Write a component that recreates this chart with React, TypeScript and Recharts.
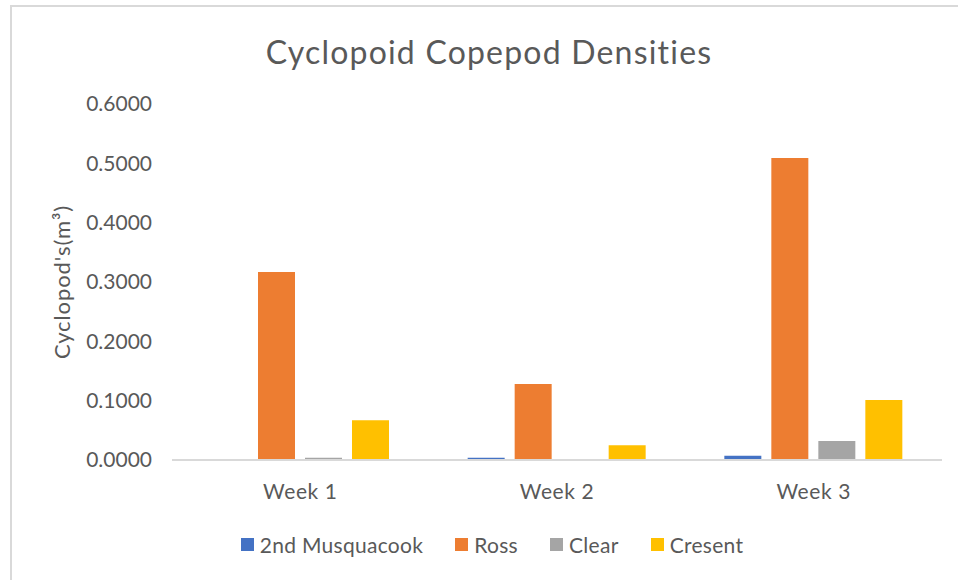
import React from "react";
import { BarChart, Bar, XAxis, YAxis, Legend, Label } from "recharts";

const categories = ["Week 1", "Week 2", "Week 3"];
const musquacook = [0, 0.004, 0.007];
const ross = [0.317, 0.128, 0.509];
const clear = [0.004, 0, 0.032];
const cresent = [0.067, 0.025, 0.101];
const yTicks = [0, 0.1, 0.2, 0.3, 0.4, 0.5, 0.6];

const seriesNames = ["2nd Musquacook", "Ross", "Clear", "Cresent"];
const seriesKeys = ["musquacook", "ross", "clear", "cresent"];
const seriesColors = ["#4472C4", "#ED7D31", "#A5A5A5", "#FFC000"];

const data = categories.map((c, i) => ({
  name: c,
  musquacook: musquacook[i],
  ross: ross[i],
  clear: clear[i],
  cresent: cresent[i],
}));

const FONT = "Lato, 'Open Sans', sans-serif";
const TEXT = "#595959";

const LegendContent = () => (
  <div
    style={{
      display: "flex",
      justifyContent: "center",
      alignItems: "center",
      fontFamily: FONT,
      fontSize: 21,
      letterSpacing: 0.3,
      color: TEXT,
      height: 24,
    }}
  >
    {seriesNames.map((n, i) => (
      <div key={n} style={{ display: "flex", alignItems: "center", marginRight: i < 3 ? 32 : 0 }}>
        <span
          style={{
            display: "inline-block",
            width: 13,
            height: 13,
            background: seriesColors[i],
            marginRight: 6,
          }}
        />
        <span>{n}</span>
      </div>
    ))}
  </div>
);

export default function App() {
  return (
    <div style={{ position: "absolute", left: 0, top: 0, width: 958, height: 580, background: "#fff", overflow: "hidden" }}>
      <div
        style={{
          position: "absolute",
          left: 10,
          top: 5,
          width: 1000,
          height: 600,
          borderLeft: "2px solid #d9d9d9",
          borderTop: "2px solid #d9d9d9",
        }}
      />
      <div
        style={{
          position: "absolute",
          left: 0,
          top: 32,
          width: 978,
          textAlign: "center",
          fontFamily: FONT,
          fontSize: 32,
          color: TEXT,
          letterSpacing: 1.2,
        }}
      >
        Cyclopoid Copepod Densities
      </div>
      <div style={{ position: "absolute", left: 0, top: 0 }}>
        <BarChart
          width={958}
          height={580}
          data={data}
          margin={{ top: 104, right: 16, bottom: 66, left: 0 }}
          barCategoryGap={39}
          barGap={10}
        >
          <XAxis
            dataKey="name"
            tickLine={false}
            axisLine={{ stroke: "#d9d9d9", strokeWidth: 2 }}
            tick={{ fill: TEXT, fontSize: 21, fontFamily: FONT, letterSpacing: 0.6 }}
            tickMargin={18}
            height={30}
          />
          <YAxis
            width={172}
            domain={[0, 0.6]}
            ticks={yTicks}
            interval={0}
            axisLine={false}
            tickLine={false}
            tickFormatter={(v: number) => v.toFixed(4)}
            tick={{ fill: TEXT, fontSize: 21, fontFamily: FONT }}
            tickMargin={14}
          >
            <Label
              value="Cyclopod's(m³)"
              angle={-90}
              position="insideLeft"
              offset={62}
              style={{ fill: TEXT, fontSize: 22, fontFamily: FONT, textAnchor: "middle", letterSpacing: 0.9 }}
            />
          </YAxis>
          <Legend
            verticalAlign="bottom"
            content={<LegendContent />}
            wrapperStyle={{ left: 26, width: 932, bottom: 24 }}
          />
          {seriesKeys.map((k, i) => (
            <Bar key={k} dataKey={k} name={seriesNames[i]} fill={seriesColors[i]} isAnimationActive={false} />
          ))}
        </BarChart>
      </div>
    </div>
  );
}
